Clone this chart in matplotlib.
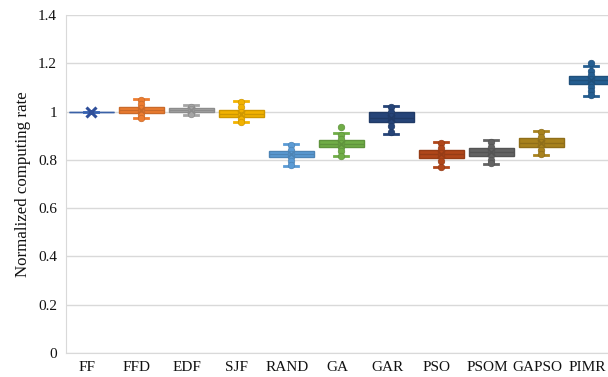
import matplotlib
matplotlib.use("Agg")
import matplotlib.pyplot as plt
import matplotlib.transforms as mtransforms
import numpy as np

categories = ["FF", "FFD", "EDF", "SJF", "RAND", "GA", "GAR", "PSO", "PSOM", "GAPSO", "PIMR"]
whislo = [1.000, 0.972, 0.985, 0.955, 0.775, 0.815, 0.907, 0.772, 0.783, 0.820, 1.065]
q1     = [1.000, 0.995, 0.998, 0.978, 0.812, 0.853, 0.957, 0.808, 0.816, 0.853, 1.114]
median = [1.000, 1.007, 1.006, 0.990, 0.825, 0.867, 0.975, 0.823, 0.832, 0.870, 1.130]
q3     = [1.000, 1.020, 1.015, 1.007, 0.837, 0.882, 0.997, 0.841, 0.849, 0.891, 1.147]
whishi = [1.000, 1.052, 1.027, 1.043, 0.866, 0.912, 1.023, 0.874, 0.882, 0.920, 1.190]
means  = [1.000, 1.007, 1.006, 0.990, 0.825, 0.867, 0.975, 0.823, 0.832, 0.870, 1.130]
points = [
    [1.0],
    [1.048, 1.03, 1.015, 1.0, 0.985, 0.972],
    [1.02, 1.01, 1.0, 0.99],
    [1.04, 1.02, 1.0, 0.985, 0.97, 0.957],
    [0.86, 0.84, 0.825, 0.81, 0.795, 0.778],
    [0.937, 0.905, 0.885, 0.87, 0.855, 0.835, 0.815],
    [1.02, 1.0, 0.98, 0.96, 0.94, 0.915],
    [0.87, 0.85, 0.83, 0.815, 0.795, 0.77],
    [0.875, 0.855, 0.835, 0.82, 0.8, 0.787],
    [0.915, 0.895, 0.875, 0.86, 0.84, 0.825],
    [1.2, 1.17, 1.15, 1.135, 1.12, 1.1, 1.085, 1.068],
]
colors = ["#4472C4", "#ED7D31", "#A5A5A5", "#F2B200", "#5B9BD5", "#70AD47",
          "#264478", "#B0461A", "#636363", "#A8821E", "#255E91"]
yticks = [0, 0.2, 0.4, 0.6, 0.8, 1.0, 1.2, 1.4]
ytick_labels = ["0", "0.2", "0.4", "0.6", "0.8", "1", "1.2", "1.4"]

plt.rcParams['font.family'] = ['Liberation Serif', 'DejaVu Serif']

fig = plt.figure(figsize=(6.08, 3.77), dpi=100)
ax = fig.add_axes([66/608, 24/377, 550/608, 338/377])

def darker(c, f=0.8):
    rgb = np.array(matplotlib.colors.to_rgb(c))
    return tuple(rgb * f)

for i, name in enumerate(categories):
    st = [dict(whislo=whislo[i], q1=q1[i], med=median[i], q3=q3[i],
               whishi=whishi[i], fliers=[], label=name)]
    c = colors[i]
    ec = darker(c, 0.85)
    ax.bxp(st, positions=[i], widths=0.9, patch_artist=True, showfliers=False,
           boxprops=dict(facecolor=c, edgecolor=ec, linewidth=1.0),
           medianprops=dict(color=ec, linewidth=1.0),
           whiskerprops=dict(color=c, linewidth=2.2),
           capprops=dict(color=c, linewidth=2.0),
           capwidths=0.28, zorder=3)
    pts = points[i]
    if i == 0:
        ax.plot([i], [means[i]], marker='x', color="#2F4F9A", markersize=7,
                markeredgewidth=2.2, zorder=5)
    else:
        ax.scatter([i] * len(pts), pts, s=22, color=c, edgecolors=ec,
                   linewidths=0.5, zorder=4)
        ax.scatter([i], [means[i]], s=26, marker='x', color=ec, linewidths=1.2, zorder=5)

ax.set_xlim(-0.5, len(categories) - 0.5)
ax.set_ylim(0, 1.4)
ax.set_yticks(yticks)
ax.set_yticklabels(ytick_labels)
ax.set_xticks(range(len(categories)))
ax.set_xticklabels(categories)
ax.yaxis.grid(True, color="#D9D9D9", linewidth=1.0, zorder=0)
ax.set_axisbelow(True)
for s in ["top", "right"]:
    ax.spines[s].set_visible(False)
ax.spines["left"].set_color("#D9D9D9")
ax.spines["bottom"].set_color("#D9D9D9")
ax.tick_params(axis='both', length=0, labelsize=11, colors="#111111")
ax.tick_params(axis='y', pad=6.5)
ax.tick_params(axis='x', pad=6)
ax.set_ylabel("Normalized computing rate", fontsize=12.2, color="#111111", labelpad=5)

offset = mtransforms.ScaledTranslation(-4/100, 0, fig.dpi_scale_trans)
for lab in ax.get_xticklabels():
    lab.set_transform(lab.get_transform() + offset)

fig.savefig("out.png", dpi=100)
